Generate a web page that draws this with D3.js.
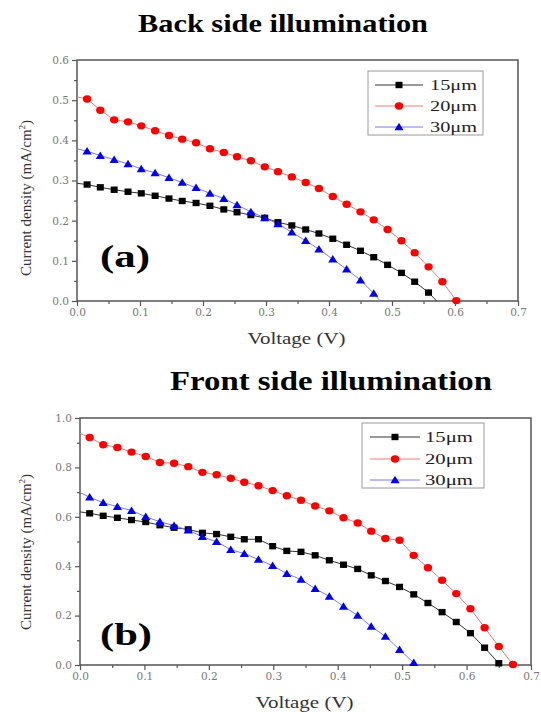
<!DOCTYPE html>
<html>
<head>
<meta charset="utf-8">
<script src="https://cdn.jsdelivr.net/npm/d3@7"></script>
<style>
  body { margin: 0; background: #fff; }
  svg { display: block; }
</style>
</head>
<body>
<div id="chart"></div>
<script>
const width = 541
const height = 712

// series labels + colours
const seriesNames = ['15μm', '20μm', '30μm']
const titles = ['Back side illumination', 'Front side illumination']
const panelTags = ['(a)', '(b)']

const xTicks = [0, 0.1, 0.2, 0.3, 0.4, 0.5, 0.6, 0.7]
const yTicksA = [0, 0.1, 0.2, 0.3, 0.4, 0.5, 0.6]
const yTicksB = [0, 0.2, 0.4, 0.6, 0.8, 1.0]

// (a) back side, voltage (V) and current density (mA/cm2)
const voltsA = [0.016, 0.037, 0.059, 0.081, 0.102, 0.124, 0.146, 0.167, 0.189, 0.211,
  0.233, 0.254, 0.276, 0.298, 0.319, 0.341, 0.363, 0.384, 0.406, 0.428,
  0.450, 0.471, 0.493, 0.515, 0.536, 0.558, 0.580, 0.602]
const curA15 = [0.290, 0.283, 0.277, 0.272, 0.268, 0.262, 0.255, 0.249, 0.244, 0.237,
  0.228, 0.221, 0.214, 0.207, 0.196, 0.188, 0.178, 0.168, 0.155, 0.140,
  0.125, 0.109, 0.090, 0.070, 0.048, 0.021]
const curA20 = [0.503, 0.475, 0.451, 0.446, 0.436, 0.424, 0.412, 0.403, 0.394, 0.379,
  0.370, 0.359, 0.349, 0.334, 0.322, 0.309, 0.295, 0.280, 0.260, 0.241,
  0.222, 0.202, 0.178, 0.150, 0.120, 0.085, 0.048, 0.001]
const curA30 = [0.373, 0.362, 0.352, 0.341, 0.329, 0.319, 0.307, 0.295, 0.282, 0.268,
  0.255, 0.239, 0.222, 0.207, 0.192, 0.171, 0.150, 0.129, 0.104, 0.079,
  0.052, 0.019]
// where each line meets the axes
const iscA = [0.293, 0.508, 0.379]
const vocA = [0.571, 0.604, 0.481]

// (b) front side
const voltsB = [0.015, 0.036, 0.058, 0.080, 0.102, 0.124, 0.146, 0.168, 0.190, 0.212,
  0.234, 0.255, 0.277, 0.299, 0.321, 0.343, 0.365, 0.387, 0.409, 0.431,
  0.452, 0.474, 0.496, 0.518, 0.540, 0.562, 0.584, 0.606, 0.628, 0.650, 0.672]
const curB15 = [0.614, 0.604, 0.596, 0.587, 0.579, 0.566, 0.556, 0.549, 0.535, 0.530,
  0.519, 0.509, 0.509, 0.481, 0.462, 0.458, 0.444, 0.424, 0.406, 0.389,
  0.363, 0.340, 0.316, 0.286, 0.251, 0.214, 0.174, 0.129, 0.070, 0.007]
const curB20 = [0.921, 0.892, 0.881, 0.862, 0.844, 0.820, 0.817, 0.803, 0.780, 0.770,
  0.756, 0.740, 0.726, 0.706, 0.685, 0.667, 0.644, 0.624, 0.596, 0.575,
  0.542, 0.512, 0.505, 0.444, 0.394, 0.343, 0.289, 0.228, 0.151, 0.075, 0.002]
const curB30 = [0.679, 0.657, 0.641, 0.625, 0.600, 0.580, 0.564, 0.546, 0.519, 0.499,
  0.467, 0.451, 0.427, 0.402, 0.370, 0.346, 0.309, 0.278, 0.237, 0.201,
  0.156, 0.116, 0.062, 0.009]
const iscB = [0.620, 0.938, 0.698]
const vocB = [0.654, 0.674, 0.521]

const markerColor = ['#000000', '#ff0000', '#0000ee']
const lineColor = ['#333333', '#f07a7a', '#7a7aee']

const svg = d3
  .select('#chart')
  .append('svg')
  .attr('width', width)
  .attr('height', height)

svg.append('rect').attr('width', width).attr('height', height).attr('fill', '#fff')

const panels = [
  {
    left: 77, right: 518, top: 60, bottom: 301,
    yMax: 0.6, yTicks: yTicksA, yMinor: 0.05, fmt: d3.format('.1f'),
    volts: voltsA, curs: [curA15, curA20, curA30], isc: iscA, voc: vocA,
    title: titles[0], titleX: 283, titleY: 32, titleLen: 290, titleSize: 26,
    tag: panelTags[0], tagX: 100, tagY: 267, tagLen: 50,
    yLabelY: 198, xLabelY: 344,
    legend: { x: 368, y: 71, w: 115, h: 64, rows: [85, 106, 127], l0: 375, l1: 423, tx: 430, tlen: 47 }
  },
  {
    left: 80, right: 531, top: 418, bottom: 665,
    yMax: 1.0, yTicks: yTicksB, yMinor: 0.1, fmt: d3.format('.1f'),
    volts: voltsB, curs: [curB15, curB20, curB30], isc: iscB, voc: vocB,
    title: titles[1], titleX: 331, titleY: 390, titleLen: 322, titleSize: 27,
    tag: panelTags[1], tagX: 100, tagY: 645, tagLen: 52,
    yLabelY: 552, xLabelY: 708,
    legend: { x: 362, y: 423, w: 122, h: 65, rows: [437, 459, 480], l0: 370, l1: 420, tx: 425, tlen: 48 }
  }
]

function drawMarker(g, k, x, y) {
  if (k === 0) {
    g.append('rect')
      .attr('x', x - 3.5).attr('y', y - 3.2)
      .attr('width', 7).attr('height', 6.4)
      .attr('fill', markerColor[k])
  } else if (k === 1) {
    g.append('ellipse')
      .attr('cx', x).attr('cy', y)
      .attr('rx', 4.2).attr('ry', 3.7)
      .attr('fill', markerColor[k])
  } else {
    g.append('path')
      .attr('d', `M${x},${y - 4.2}L${x + 4.6},${y + 3.3}L${x - 4.6},${y + 3.3}Z`)
      .attr('fill', markerColor[k])
  }
}

panels.forEach(p => {
  const x = d3.scaleLinear().domain([0, 0.7]).range([p.left, p.right])
  const y = d3.scaleLinear().domain([0, p.yMax]).range([p.bottom, p.top])
  const g = svg.append('g')

  // title
  g.append('text')
    .attr('x', p.titleX).attr('y', p.titleY)
    .attr('text-anchor', 'middle')
    .attr('font-family', 'Liberation Serif, Times New Roman, serif')
    .attr('font-weight', 700)
    .attr('font-size', p.titleSize)
    .attr('textLength', p.titleLen)
    .attr('lengthAdjust', 'spacingAndGlyphs')
    .attr('fill', '#000')
    .text(p.title)

  // axes
  const xAxis = d3.axisBottom(x).tickValues(xTicks).tickFormat(d3.format('.1f')).tickSize(5).tickPadding(3)
  const xMinor = d3.axisBottom(x).tickValues(d3.range(0.05, 0.7, 0.1)).tickFormat('').tickSize(3)
  const yAxis = d3.axisLeft(y).tickValues(p.yTicks).tickFormat(p.fmt).tickSize(5).tickPadding(3)
  const yMinor = d3.axisLeft(y).tickValues(d3.range(p.yMinor, p.yMax, p.yMinor * 2)).tickFormat('').tickSize(3)

  const axes = [
    g.append('g').attr('transform', `translate(0,${p.bottom})`).call(xAxis),
    g.append('g').attr('transform', `translate(0,${p.bottom})`).call(xMinor),
    g.append('g').attr('transform', `translate(${p.left},0)`).call(yAxis),
    g.append('g').attr('transform', `translate(${p.left},0)`).call(yMinor)
  ]
  axes.forEach(a => {
    a.select('.domain').remove()
    a.selectAll('line').attr('stroke', '#555').attr('stroke-width', 1.2)
    a.selectAll('text')
      .attr('font-family', 'DejaVu Serif, serif')
      .attr('font-size', 10.5)
      .attr('fill', '#777')
  })

  // frame
  g.append('rect')
    .attr('x', p.left).attr('y', p.top)
    .attr('width', p.right - p.left).attr('height', p.bottom - p.top)
    .attr('fill', 'none')
    .attr('stroke', '#555')
    .attr('stroke-width', 1.5)

  // axis titles
  g.append('text')
    .attr('x', (p.left + p.right) / 2 - 1).attr('y', p.xLabelY)
    .attr('text-anchor', 'middle')
    .attr('font-family', 'Liberation Serif, serif')
    .attr('font-size', 16)
    .attr('textLength', 98)
    .attr('lengthAdjust', 'spacingAndGlyphs')
    .attr('fill', '#333')
    .text('Voltage (V)')

  const yl = g.append('text')
    .attr('transform', `translate(31,${p.yLabelY}) rotate(-90)`)
    .attr('text-anchor', 'middle')
    .attr('font-family', 'Liberation Serif, serif')
    .attr('font-size', 15)
    .attr('fill', '#333')
  yl.append('tspan').text('Current density (mA/cm')
  yl.append('tspan').attr('font-size', 9).attr('dy', -6).text('2')
  yl.append('tspan').attr('dy', 6).text(')')

  // series
  const line = d3.line().x(d => x(d[0])).y(d => y(d[1]))
  p.curs.forEach((cur, k) => {
    const pts = cur.map((c, i) => [p.volts[i], c])
    const full = [[0, p.isc[k]]].concat(pts, [[p.voc[k], 0]])
    g.append('path')
      .datum(full)
      .attr('d', line)
      .attr('fill', 'none')
      .attr('stroke', lineColor[k])
      .attr('stroke-width', 1)
  })
  p.curs.forEach((cur, k) => {
    const mg = g.append('g')
    cur.forEach((c, i) => drawMarker(mg, k, x(p.volts[i]), y(c)))
  })

  // panel tag
  g.append('text')
    .attr('x', p.tagX).attr('y', p.tagY)
    .attr('font-family', 'Liberation Serif, serif')
    .attr('font-weight', 700)
    .attr('font-size', 31)
    .attr('textLength', p.tagLen)
    .attr('lengthAdjust', 'spacingAndGlyphs')
    .text(p.tag)

  // legend
  const L = p.legend
  g.append('rect')
    .attr('x', L.x).attr('y', L.y).attr('width', L.w).attr('height', L.h)
    .attr('fill', '#fff').attr('stroke', '#999').attr('stroke-width', 1)
  seriesNames.forEach((name, k) => {
    const ry = L.rows[k]
    g.append('line')
      .attr('x1', L.l0).attr('x2', L.l1).attr('y1', ry).attr('y2', ry)
      .attr('stroke', lineColor[k]).attr('stroke-width', 1)
    drawMarker(g, k, (L.l0 + L.l1) / 2, ry)
    g.append('text')
      .attr('x', L.tx).attr('y', ry + 5)
      .attr('font-family', 'Liberation Serif, serif')
      .attr('font-size', 15)
      .attr('textLength', L.tlen)
      .attr('lengthAdjust', 'spacingAndGlyphs')
      .attr('fill', '#222')
      .text(name)
  })
})
</script>
</body>
</html>
